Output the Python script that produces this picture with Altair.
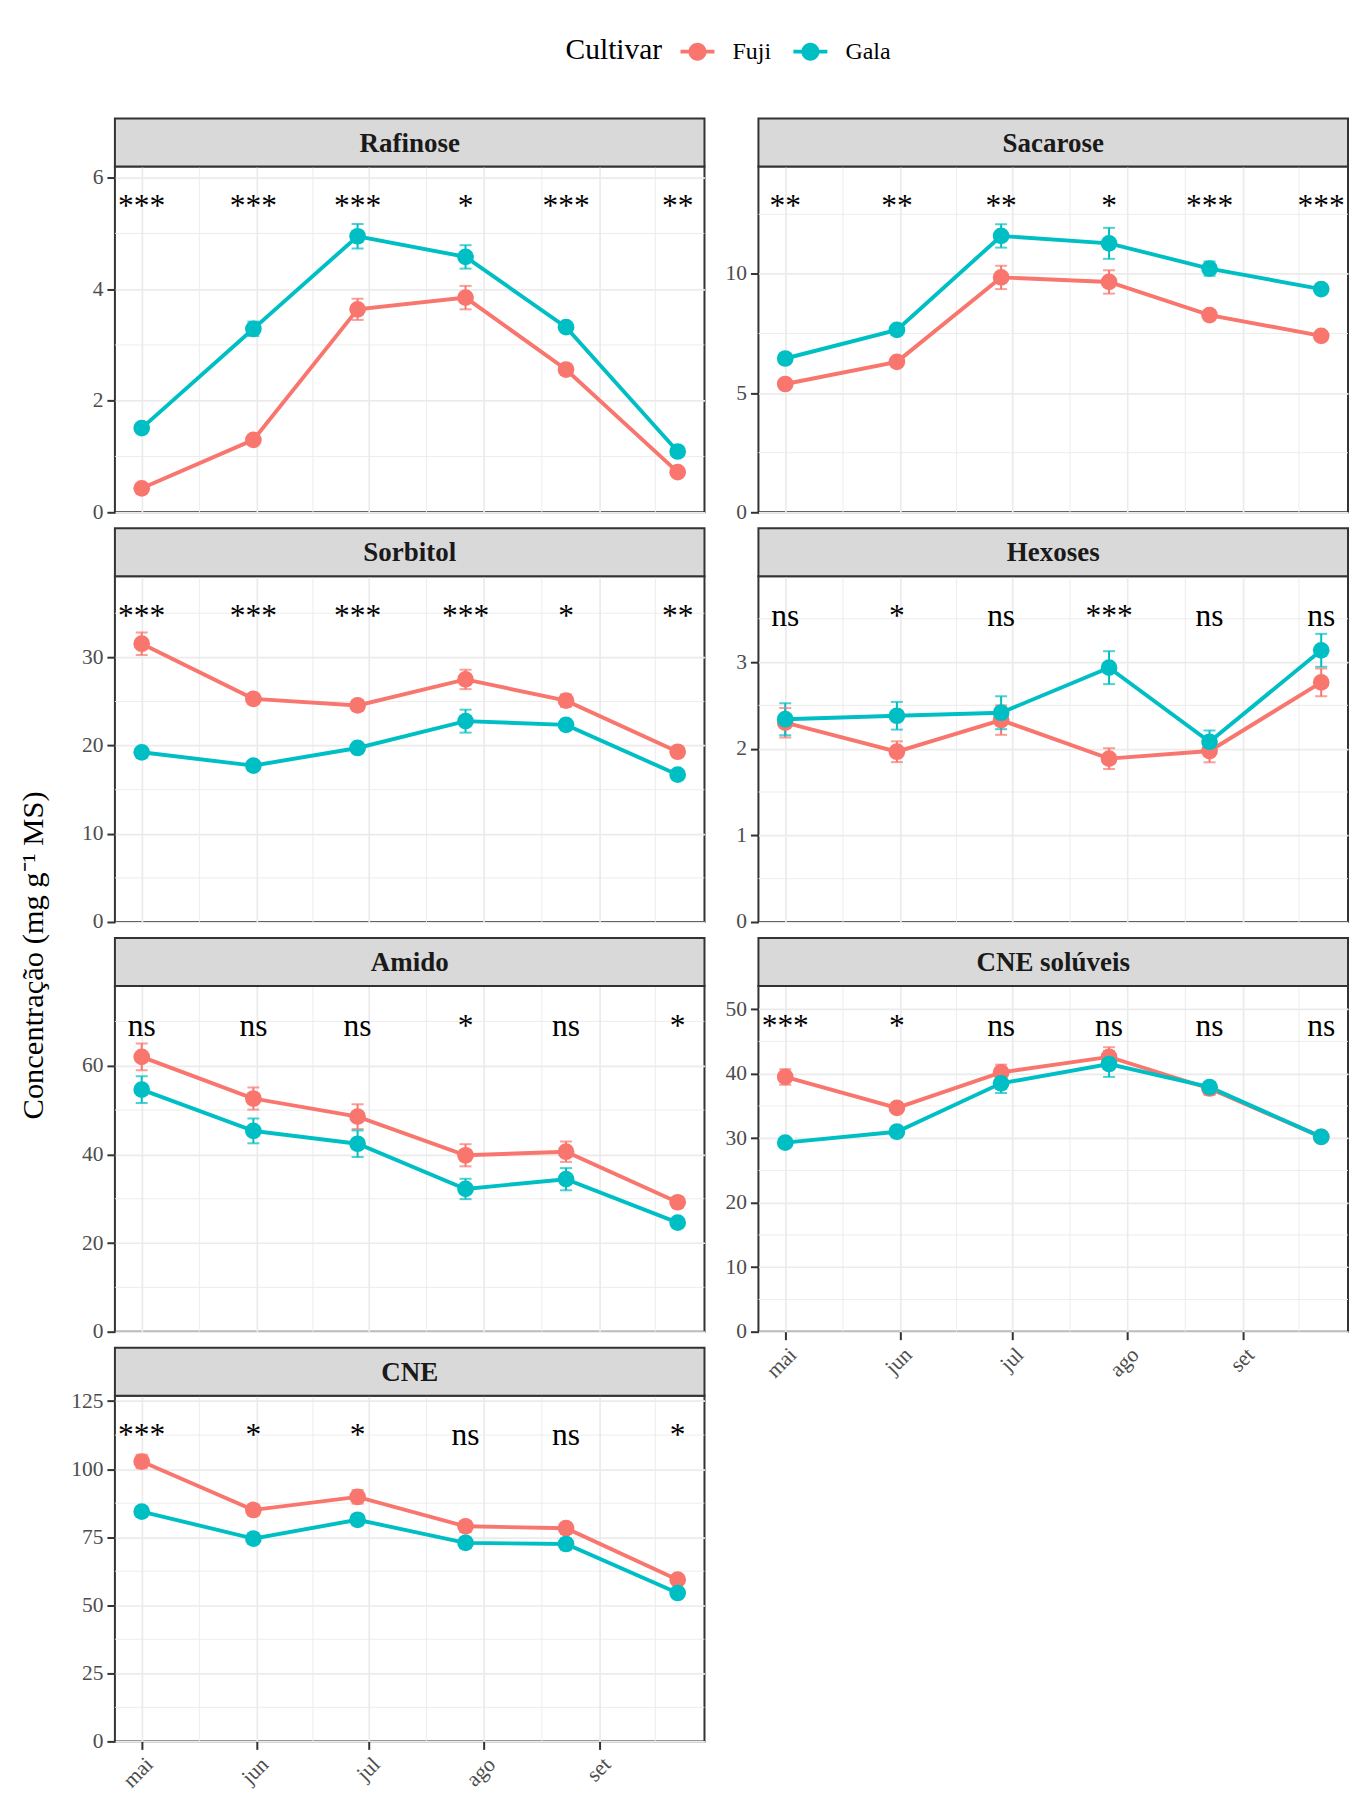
import altair as alt
import pandas as pd

# ---------------- data ----------------
dates = ["2019-05-01", "2019-05-31", "2019-06-28", "2019-07-27", "2019-08-23", "2019-09-22"]
month_ticks = ["2019-05-01", "2019-06-01", "2019-07-01", "2019-08-01", "2019-09-01"]
minor_dates = ["2019-05-16T12:00:00Z", "2019-06-16T00:00:00Z", "2019-07-16T12:00:00Z",
               "2019-08-16T12:00:00Z", "2019-09-16T00:00:00Z"]
cultivars = ["Fuji", "Gala"]
panel_names = ["Rafinose", "Sacarose", "Sorbitol", "Hexoses", "Amido", "CNE solúveis", "CNE"]

rafinose_fuji = [0.43, 1.30, 3.64, 3.85, 2.56, 0.72]
rafinose_fuji_se = [0.05, 0.06, 0.19, 0.21, 0.06, 0.05]
rafinose_gala = [1.51, 3.29, 4.95, 4.58, 3.32, 1.09]
rafinose_gala_se = [0.05, 0.13, 0.22, 0.21, 0.07, 0.06]

sacarose_fuji = [5.38, 6.31, 9.85, 9.66, 8.27, 7.40]
sacarose_fuji_se = [0.15, 0.15, 0.49, 0.49, 0.15, 0.15]
sacarose_gala = [6.45, 7.65, 11.59, 11.28, 10.22, 9.36]
sacarose_gala_se = [0.15, 0.20, 0.49, 0.65, 0.30, 0.15]

sorbitol_fuji = [31.55, 25.30, 24.55, 27.50, 25.10, 19.30]
sorbitol_fuji_se = [1.27, 0.60, 0.60, 1.10, 0.70, 0.50]
sorbitol_gala = [19.24, 17.73, 19.73, 22.77, 22.35, 16.70]
sorbitol_gala_se = [0.50, 0.50, 0.50, 1.30, 0.60, 0.50]

hexoses_fuji = [2.30, 1.965, 2.33, 1.885, 1.973, 2.765]
hexoses_fuji_se = [0.17, 0.12, 0.17, 0.12, 0.13, 0.16]
hexoses_gala = [2.34, 2.38, 2.415, 2.935, 2.08, 3.135]
hexoses_gala_se = [0.185, 0.16, 0.19, 0.19, 0.13, 0.19]

amido_fuji = [62.0, 52.6, 48.5, 39.8, 40.6, 29.2]
amido_fuji_se = [3.0, 2.5, 2.8, 2.5, 2.3, 1.0]
amido_gala = [54.6, 45.3, 42.4, 32.2, 34.4, 24.6]
amido_gala_se = [3.0, 2.8, 3.0, 2.3, 2.5, 1.0]

cnesol_fuji = [39.5, 34.7, 40.2, 42.6, 37.7, 30.2]
cnesol_fuji_se = [1.2, 0.8, 1.2, 1.5, 1.0, 0.5]
cnesol_gala = [29.3, 31.0, 38.5, 41.5, 37.9, 30.2]
cnesol_gala_se = [0.5, 0.8, 1.5, 2.0, 0.8, 0.5]

cne_fuji = [102.8, 85.0, 89.8, 79.0, 78.3, 59.4]
cne_fuji_se = [2.5, 2.0, 2.5, 2.0, 2.0, 1.5]
cne_gala = [84.4, 74.5, 81.4, 72.9, 72.5, 54.5]
cne_gala_se = [2.0, 2.0, 2.0, 2.0, 2.0, 1.5]

sig_rafinose = ["***", "***", "***", "*", "***", "**"]
sig_sacarose = ["**", "**", "**", "*", "***", "***"]
sig_sorbitol = ["***", "***", "***", "***", "*", "**"]
sig_hexoses = ["ns", "*", "ns", "***", "ns", "ns"]
sig_amido = ["ns", "ns", "ns", "*", "ns", "*"]
sig_cnesol = ["***", "*", "ns", "ns", "ns", "ns"]
sig_cne = ["***", "*", "*", "ns", "ns", "*"]

y_tops = [6.2, 14.5, 39.2, 3.99, 78.0, 53.6, 127.0]
label_y = [5.32, 12.43, 33.6, 3.42, 66.8, 45.9, 108.8]
y_ticks = [[0, 2, 4, 6], [0, 5, 10], [0, 10, 20, 30], [0, 1, 2, 3],
           [0, 20, 40, 60], [0, 10, 20, 30, 40, 50], [0, 25, 50, 75, 100, 125]]
y_minor = [[1, 3, 5], [2.5, 7.5, 12.5], [5, 15, 25, 35], [0.5, 1.5, 2.5, 3.5],
           [10, 30, 50, 70], [5, 15, 25, 35, 45], [12.5, 37.5, 62.5, 87.5, 112.5]]

series = [
    (rafinose_fuji, rafinose_fuji_se, rafinose_gala, rafinose_gala_se, sig_rafinose),
    (sacarose_fuji, sacarose_fuji_se, sacarose_gala, sacarose_gala_se, sig_sacarose),
    (sorbitol_fuji, sorbitol_fuji_se, sorbitol_gala, sorbitol_gala_se, sig_sorbitol),
    (hexoses_fuji, hexoses_fuji_se, hexoses_gala, hexoses_gala_se, sig_hexoses),
    (amido_fuji, amido_fuji_se, amido_gala, amido_gala_se, sig_amido),
    (cnesol_fuji, cnesol_fuji_se, cnesol_gala, cnesol_gala_se, sig_cnesol),
    (cne_fuji, cne_fuji_se, cne_gala, cne_gala_se, sig_cne),
]

# ---------------- style ----------------
FONT = "Liberation Serif"
W, H, STRIP_H = 590, 346, 48
COLORS = ["#F8766D", "#00BFC4"]
TICK_FS = 21.5


def ms(s):
    return int(pd.Timestamp(s, tz="UTC").value // 10**6)


d_ms = [ms(d) for d in dates]
rng = max(d_ms) - min(d_ms)
x_domain = [min(d_ms) - 0.05 * rng, max(d_ms) + 0.05 * rng]
tick_ms = [ms(d) for d in month_ticks]

MONTH_EXPR = ("['jan','fev','mar','abr','mai','jun','jul','ago','set','out','nov','dez']"
              "[utcmonth(datum.value)]")

color_scale = alt.Scale(domain=cultivars, range=COLORS)
LEGEND_PATH = ("M-1,-0.11L1,-0.11L1,0.11L-1,0.11Z "
               "M0.53,0A0.53,0.53,0,1,1,-0.53,0A0.53,0.53,0,1,1,0.53,0Z")
legend = alt.Legend(orient="none", legendX=451, legendY=-132, direction="horizontal",
                    title="Cultivar", titleOrient="left", titleFont=FONT, titleFontSize=29.5,
                    titleFontWeight="normal", titleColor="black", titlePadding=18,
                    titleBaseline="middle",
                    labelFont=FONT, labelFontSize=24, labelColor="black", labelOffset=18,
                    symbolType=LEGEND_PATH, symbolSize=1156, symbolStrokeWidth=0,
                    symbolOpacity=1, columnPadding=22)


def make_panel(i, show_x):
    name = panel_names[i]
    fm, fse, gm, gse, sig = series[i]
    top = y_tops[i]
    rows = []
    for c, m, se in (("Fuji", fm, fse), ("Gala", gm, gse)):
        for d, v, e in zip(dates, m, se):
            rows.append({"date": d, "cultivar": c, "mean": v, "lo": v - e, "hi": v + e})
    df = pd.DataFrame(rows)
    caps = pd.concat([
        df[["date", "cultivar", "lo"]].rename(columns={"lo": "v"}),
        df[["date", "cultivar", "hi"]].rename(columns={"hi": "v"}),
    ])
    sig_df = pd.DataFrame({"date": dates, "label": sig, "ly": [label_y[i]] * len(dates)})

    xs = alt.Scale(type="utc", domain=x_domain, nice=False)
    ys = alt.Scale(domain=[0, top], nice=False, zero=True)
    if show_x:
        xaxis = alt.Axis(values=tick_ms, labelExpr=MONTH_EXPR, labelAngle=315,
                         labelAlign="right", labelBaseline="top", labelPadding=4,
                         labelFont=FONT, labelFontSize=TICK_FS, labelColor="#4D4D4D",
                         labelFlush=False, labelOverlap=False, title=None, grid=True,
                         domain=False, ticks=True)
    else:
        xaxis = alt.Axis(values=tick_ms, labels=False, ticks=False, domain=False,
                         grid=True, title=None)
    yaxis = alt.Axis(values=y_ticks[i], title=None, grid=True, domain=False,
                     labelFont=FONT, labelFontSize=TICK_FS, labelColor="#4D4D4D",
                     labelOverlap=False, labelFlush=False)

    def X(f):
        return alt.X(f, scale=xs, axis=xaxis, title=None)

    def Y(f):
        return alt.Y(f, scale=ys, axis=yaxis, title=None)

    def C():
        return alt.Color("cultivar:N", scale=color_scale, legend=legend)

    minor_h = alt.Chart(pd.DataFrame({"v": y_minor[i]})).mark_rule(
        color="#EBEBEB", strokeWidth=0.9).encode(y=Y("v:Q"))
    minor_v = alt.Chart(pd.DataFrame({"d": minor_dates})).mark_rule(
        color="#EBEBEB", strokeWidth=0.9).encode(x=X("d:T"))
    base = alt.Chart(df)
    err = base.mark_rule(strokeWidth=2).encode(
        x=X("date:T"), y=Y("lo:Q"), y2="hi:Q", color=C())
    cap = alt.Chart(caps).mark_tick(orient="horizontal", size=12, thickness=2).encode(
        x=X("date:T"), y=Y("v:Q"), color=C())
    line = base.mark_line(strokeWidth=3.9).encode(
        x=X("date:T"), y=Y("mean:Q"), color=C(), detail="cultivar:N")
    pts = base.mark_circle(size=280, opacity=1).encode(
        x=X("date:T"), y=Y("mean:Q"), color=C())
    txt = alt.Chart(sig_df).mark_text(font=FONT, fontSize=31.5, color="black",
                                      baseline="alphabetic", align="center").encode(
        x=X("date:T"), y=Y("ly:Q"), text="label:N")

    # facet strip (decoration above the panel)
    strip_df = pd.DataFrame({"t": [name]})
    strip_box = alt.Chart(strip_df).mark_rect(
        fill="#D9D9D9", stroke="#333333", strokeWidth=2).encode(
        x=alt.value(0), x2=alt.value(W), y=alt.value(-STRIP_H), y2=alt.value(0))
    strip_txt = alt.Chart(strip_df).mark_text(
        font=FONT, fontSize=27, fontWeight="bold", color="#1A1A1A",
        baseline="middle", align="center").encode(
        x=alt.value(W / 2), y=alt.value(-STRIP_H / 2 + 1), text="t:N")

    return alt.layer(minor_h, minor_v, line, err, cap, pts, txt, strip_box, strip_txt).properties(
        width=W, height=H)


panels = [make_panel(i, show_x=(i in (5, 6))) for i in range(7)]

chart = alt.concat(*panels, columns=2, spacing={"row": 16 + STRIP_H, "column": 54},
                   bounds="flush").properties(
    title=alt.TitleParams("Concentração (mg g⁻¹ MS)", orient="left", anchor="middle",
                          font=FONT, fontSize=30.5, fontWeight="normal", color="black",
                          offset=20, dx=-42),
    padding={"left": 11, "top": 26, "right": 2, "bottom": 10},
).configure_axis(
    labelFont=FONT, labelFontSize=TICK_FS, labelColor="#4D4D4D",
    tickColor="#333333", tickWidth=2, tickSize=8, labelPadding=4,
    gridColor="#EBEBEB", gridWidth=1.7,
).configure_view(
    stroke="#333333", strokeWidth=2, fill="white"
)

chart.save("out.html", embed_options={"renderer": "svg", "actions": False})
